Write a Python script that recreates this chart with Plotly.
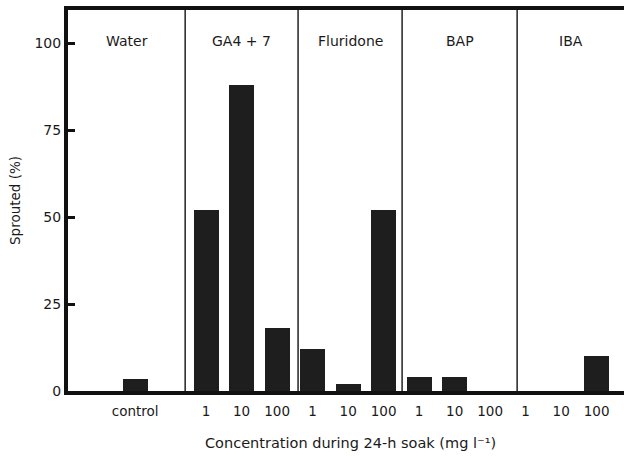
import plotly.graph_objects as go

# Data
tick_labels = ["control", "1", "10", "100", "1", "10", "100", "1", "10", "100", "1", "10", "100"]
positions = [0, 2, 3, 4, 5, 6, 7, 8, 9, 10, 11, 12, 13]
sprouted = [3.5, 52, 88, 18, 12, 2, 52, 4, 4, 0, 0, 0, 10]
groups = ["Water", "GA4 + 7", "Fluridone", "BAP", "IBA"]
separators = [1.41, 4.59, 7.52, 10.76]
x_range = [-1.89, 13.77]
y_ticks = [0, 25, 50, 75, 100]

FONT = "DejaVu Sans"
TXT = "#1a1a1a"

fig = go.Figure()
fig.add_trace(go.Bar(
    x=positions, y=sprouted, width=0.7,
    marker=dict(color="#1e1e1e", line=dict(width=0)),
    showlegend=False,
))

# separators
for s in separators:
    fig.add_shape(type="line", x0=s, x1=s, y0=0, y1=1, xref="x", yref="paper",
                  line=dict(color="#222", width=1.5))

# group labels centred between separators
bounds = [x_range[0]] + separators + [x_range[1]]
for i, g in enumerate(groups):
    fig.add_annotation(x=(bounds[i] + bounds[i + 1]) / 2, y=100.5, xref="x", yref="y",
                       text=g, showarrow=False, yanchor="middle",
                       font=dict(family=FONT, size=14, color=TXT))

fig.add_annotation(x=0.508, y=-0.136, xref="paper", yref="paper", yanchor="middle",
                   text="Concentration during 24-h soak (mg l⁻¹)",
                   showarrow=False, font=dict(family=FONT, size=14.5, color=TXT))

fig.update_xaxes(range=x_range, tickmode="array", tickvals=positions, ticktext=tick_labels,
                 ticks="", showgrid=False, zeroline=False,
                 showline=True, linewidth=3.5, linecolor="#111", mirror=True,
                 tickfont=dict(family=FONT, size=13.5, color=TXT), ticklabelstandoff=5)
fig.update_yaxes(range=[0, 109.5], tickvals=y_ticks, ticks="inside", ticklen=7, tickwidth=3,
                 tickcolor="#111", showgrid=False, zeroline=False,
                 showline=True, linewidth=4, linecolor="#111", mirror=False,
                 tickfont=dict(family=FONT, size=14, color=TXT),
                 title=dict(text="Sprouted (%)", font=dict(family=FONT, size=13.5, color=TXT), standoff=12))

fig.update_layout(width=624, height=456, margin=dict(l=68, r=0, t=10, b=65),
                  plot_bgcolor="white", paper_bgcolor="white", bargap=0)

fig.write_html("out.html")
